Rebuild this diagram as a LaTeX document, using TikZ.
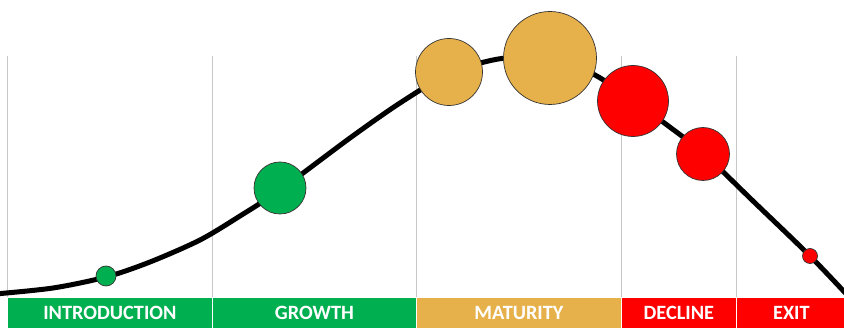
\documentclass[tikz,border=0pt]{standalone}
\usepackage{fontspec}
\setmainfont{Carlito}
\definecolor{stagegreen}{HTML}{00B050}
\definecolor{stagegold}{HTML}{E6B04A}
\definecolor{stagered}{HTML}{FF0000}
\tikzset{
  phase/.style={draw=white, line width=0.8pt, anchor=north west, minimum height=31pt,
    inner sep=0pt, text=white, font=\bfseries\fontsize{20.3}{20}\selectfont},
  dot/.style={draw=black!80, line width=0.7pt, circle, inner sep=0pt},
  grid line/.style={draw=black!22, line width=0.8pt}
}
\begin{document}
\begin{tikzpicture}[x=1pt,y=-1pt]
\useasboundingbox (0,0) rectangle (844,328);

% stage separators
\foreach \xx in {7,212,416,621,736}
  \path[grid line] (\xx,56) -- (\xx,297);

% life cycle curve
\begin{scope}
\clip (0,0) rectangle (844,297);
\draw[line width=5pt] plot[smooth] coordinates {(-5,294) (53,288) (106,277) (150,262)
  (200,240) (240,216) (280,190) (350,138) (400,103) (450,73) (493,60) (525,57) (560,61)
  (595,75) (633,100) (663,122) (703,153) (753,201) (810,256) (850,298)};
\end{scope}

% stages on the curve
\node[dot, fill=stagegreen, minimum size=20pt] (intro) at (106,276) {};
\node[dot, fill=stagegreen, minimum size=52pt] (grow) at (280,188) {};
\node[dot, fill=stagegold, minimum size=67pt] (mat1) at (449,72) {};
\node[dot, fill=stagegold, minimum size=93pt] (mat2) at (550,58) {};
\node[dot, fill=stagered, minimum size=71pt] (dec1) at (633,101) {};
\node[dot, fill=stagered, minimum size=53pt] (dec2) at (703,154) {};
\node[dot, fill=stagered, minimum size=15pt] (exit) at (810,256) {};

% stage bar
\node[phase, fill=stagegreen, minimum width=205pt] (introbar) at (7,297) {INTRODUCTION};
\node[phase, fill=stagegreen, minimum width=204pt] (growbar) at (212,297) {GROWTH};
\node[phase, fill=stagegold, minimum width=205pt] (matbar) at (416,297) {MATURITY};
\node[phase, fill=stagered, minimum width=115pt] (decbar) at (621,297) {DECLINE};
\node[phase, fill=stagered, minimum width=110pt] (exitbar) at (736,297) {EXIT};
\end{tikzpicture}
\end{document}
